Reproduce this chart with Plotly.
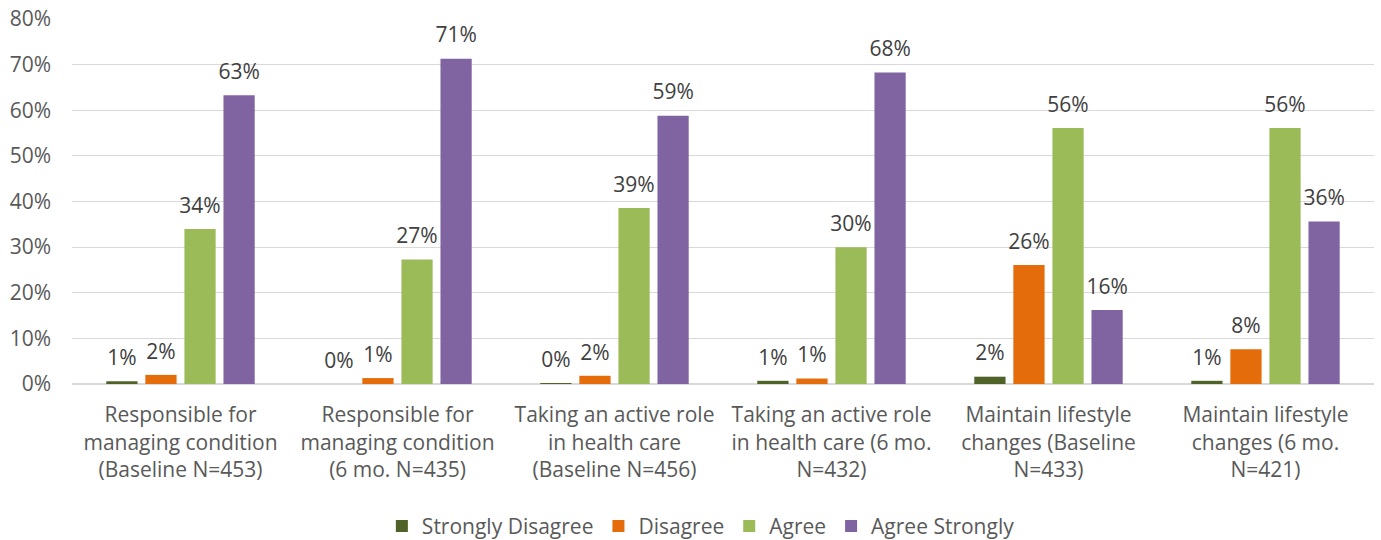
import plotly.graph_objects as go

categories = [
    'Responsible for<br>managing condition<br>(Baseline N=453)',
    'Responsible for<br>managing condition<br>(6 mo. N=435)',
    'Taking an active role<br>in health care<br>(Baseline N=456)',
    'Taking an active role<br>in health care (6 mo.<br>N=432)',
    'Maintain lifestyle<br>changes (Baseline<br>N=433)',
    'Maintain lifestyle<br>changes (6 mo.<br>N=421)',
]

series_names = ['Strongly Disagree', 'Disagree', 'Agree', 'Agree Strongly']
strongly_disagree = [0.6, 0.0, 0.2, 0.7, 1.6, 0.7]
disagree = [2.0, 1.3, 1.8, 1.2, 26.1, 7.6]
agree = [34.0, 27.3, 38.6, 30.0, 56.1, 56.1]
agree_strongly = [63.3, 71.3, 58.8, 68.3, 16.2, 35.6]

colors = ['#4f6228', '#e46c0a', '#9bbb59', '#8064a2']
font_family = 'Open Sans, sans-serif'
text_color = '#595959'
gap = 0.28

fig = go.Figure()
all_values = [strongly_disagree, disagree, agree, agree_strongly]
for name, values, color in zip(series_names, all_values, colors):
    fig.add_trace(go.Bar(
        x=categories,
        y=values,
        name=name,
        marker=dict(color=color, line=dict(width=0)),
        offsetgroup=name,
    ))

# Data labels, lifted above the bars like in Excel
for name, values in zip(series_names, all_values):
    fig.add_trace(go.Scatter(
        x=categories,
        y=values,
        mode='markers+text',
        marker=dict(size=16, opacity=0),
        text=['%.0f%%' % v for v in values],
        textposition='top center',
        textfont=dict(size=21, color='#404040', family=font_family),
        offsetgroup=name,
        showlegend=False,
        hoverinfo='skip',
        cliponaxis=False,
    ))

fig.update_layout(
    width=1381,
    height=540,
    barmode='group',
    scattermode='group',
    bargap=gap,
    scattergap=gap,
    bargroupgap=0.2,
    plot_bgcolor='white',
    paper_bgcolor='white',
    margin=dict(l=72, r=7, t=19, b=156, autoexpand=False),
    font=dict(family=font_family, size=21, color=text_color),
    legend=dict(
        orientation='h',
        x=0.483,
        xanchor='center',
        y=-0.39,
        yanchor='middle',
        font=dict(size=21, color=text_color),
        itemsizing='constant',
    ),
)
fig.update_xaxes(
    showgrid=False,
    showline=True,
    linecolor='#d9d9d9',
    linewidth=1,
    tickfont=dict(size=21, color=text_color),
    ticks='',
    ticklabelstandoff=12,
    automargin=False,
)
fig.update_yaxes(
    range=[0, 80],
    dtick=10,
    ticksuffix='%',
    showgrid=True,
    gridcolor='#d9d9d9',
    gridwidth=1,
    zeroline=True,
    zerolinecolor='#d9d9d9',
    tickfont=dict(size=21, color=text_color),
    ticks='',
    ticklabelstandoff=20,
    automargin=False,
)

# page body has a default 8px margin, drop it so the figure fills the window
fig.write_html('out.html', config={'displayModeBar': False},
               post_script="document.body.style.margin = '0';")
